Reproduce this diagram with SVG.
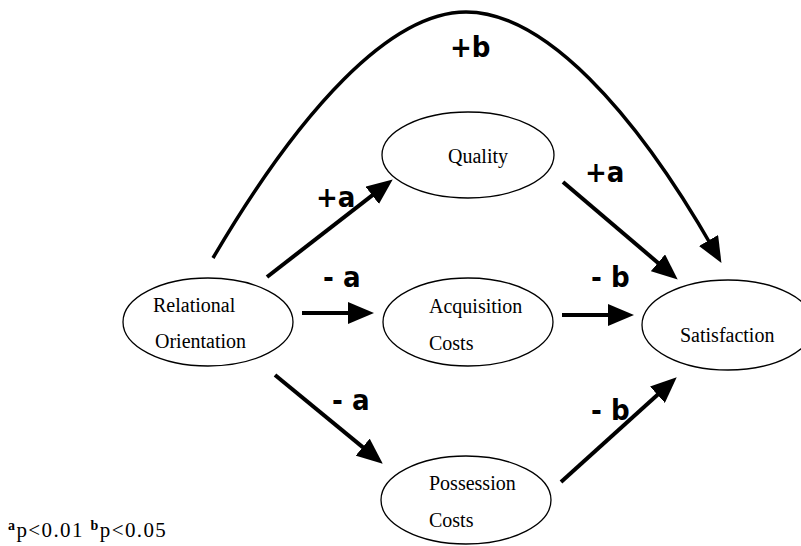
<svg xmlns="http://www.w3.org/2000/svg" width="801" height="546" viewBox="0 0 801 546">
<defs>
<marker id="ah" markerUnits="userSpaceOnUse" markerWidth="26" markerHeight="22" refX="11" refY="11" orient="auto">
<path d="M0,0 L26,11 L0,22 z" fill="#000"/>
</marker>
<style>
.node ellipse{fill:#fff;stroke:#000;stroke-width:1.3}
.nt{font-family:"Liberation Serif","Times New Roman",serif;font-size:20px;fill:#000}
.lbl{font-family:"DejaVu Sans",sans-serif;font-weight:bold;font-size:29px;font-stretch:condensed;fill:#000}
.fn{font-family:"Liberation Serif","Times New Roman",serif;font-size:21px;fill:#000;letter-spacing:1.4px}
.sup{font-weight:bold;font-size:14px}
#connectors path,#connectors line{stroke:#000;stroke-width:4;fill:none;marker-end:url(#ah)}
</style>
</defs>
<rect width="801" height="546" fill="#fff"/>
<g id="connectors">
<path d="M213,258 C300,110 390,12 466,12 C544,12 634,110 714,250" style="stroke-width:3.5"/>
<line x1="267" y1="277" x2="380.9" y2="188.6"/>
<line x1="563" y1="182" x2="666.3" y2="269.9"/>
<line x1="302" y1="313" x2="359" y2="313"/>
<line x1="562" y1="315" x2="619" y2="315"/>
<line x1="275" y1="375" x2="371.2" y2="454.1"/>
<line x1="561" y1="482" x2="665.6" y2="387.4"/>
</g>
<g id="labels">
<text class="lbl" x="450" y="57">+b</text>
<text class="lbl" x="316" y="207">+a</text>
<text class="lbl" x="585" y="182">+a</text>
<text class="lbl" x="323" y="287">- a</text>
<text class="lbl" x="591" y="287">- b</text>
<text class="lbl" x="332" y="410">- a</text>
<text class="lbl" x="591" y="420">- b</text>
</g>
<g id="relational" class="node">
<ellipse cx="208" cy="322" rx="85" ry="44"/>
<text class="nt" x="153" y="312">Relational</text>
<text class="nt" x="155" y="348">Orientation</text>
</g>
<g id="quality" class="node">
<ellipse cx="468" cy="155" rx="86" ry="43"/>
<text class="nt" x="448" y="163">Quality</text>
</g>
<g id="acquisition" class="node">
<ellipse cx="468" cy="322" rx="85" ry="44"/>
<text class="nt" x="429" y="313">Acquisition</text>
<text class="nt" x="429" y="350">Costs</text>
</g>
<g id="satisfaction" class="node">
<ellipse cx="728" cy="325" rx="86" ry="45"/>
<text class="nt" x="680" y="342">Satisfaction</text>
</g>
<g id="possession" class="node">
<ellipse cx="466" cy="500" rx="85" ry="44"/>
<text class="nt" x="429" y="490">Possession</text>
<text class="nt" x="429" y="527">Costs</text>
</g>
<text class="fn" x="8" y="537"><tspan class="sup" dy="-7">a</tspan><tspan dy="7">p&lt;0.01 </tspan><tspan class="sup" dy="-7">b</tspan><tspan dy="7">p&lt;0.05</tspan></text>
</svg>
